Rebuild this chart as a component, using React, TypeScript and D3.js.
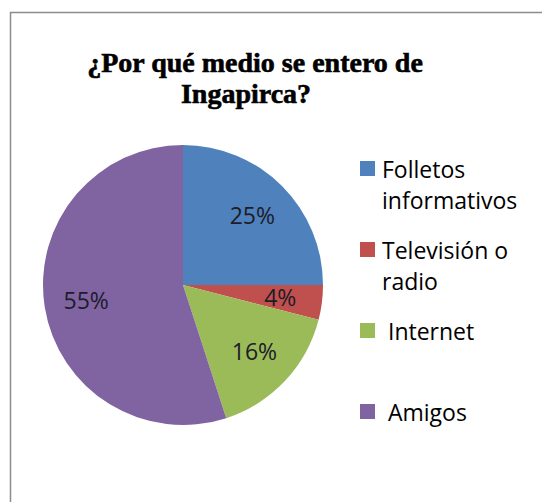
import React from "react";
import * as d3 from "d3";

const categories = ["Folletos informativos", "Televisión o radio", "Internet", "Amigos"];
const legendLines = [["Folletos", "informativos"], ["Televisión o", "radio"], [" Internet"], [" Amigos"]];
const values = [25, 4, 16, 55];
const colors = ["#4F81BD", "#C0504D", "#9BBB59", "#8064A2"];
const titleLines = ["¿Por qué medio se entero de", "Ingapirca?"];

export default function App() {
  const W = 542, H = 502;
  const cx = 183, cy = 285, R = 140;
  const pie = d3.pie<number>().sort(null).value((d) => d);
  const arcs = pie(values);
  const arc = d3.arc<d3.PieArcDatum<number>>().innerRadius(0).outerRadius(R);
  const labelArc = d3.arc<d3.PieArcDatum<number>>().innerRadius(98).outerRadius(98);
  return (
    <svg width={W} height={H} style={{ position: "absolute", left: 0, top: 0, background: "#fff" }}>
      <rect x={10.5} y={12.5} width={560} height={500} fill="#fff" stroke="#8c8c8c" strokeWidth={1.5} />
      {titleLines.map((t, i) => (
        <text key={i} x={i === 0 ? 255 : 246} y={72 + i * 31} textAnchor="middle"
          fontFamily="'Liberation Serif', serif" fontWeight="bold" fontSize={28} fill="#000"
          stroke="#000" strokeWidth={0.6}>{t}</text>
      ))}
      <g transform={`translate(${cx},${cy})`}>
        {arcs.map((a, i) => (
          <path key={i} d={arc(a) || ""} fill={colors[i]} />
        ))}
        {arcs.map((a, i) => {
          const [x, y] = labelArc.centroid(a);
          return (
            <text key={"l" + i} x={x} y={y} dy="0.36em" textAnchor="middle"
              fontFamily="'Open Sans', sans-serif" fontSize={23} fill="#1c1c2a">{values[i]}%</text>
          );
        })}
      </g>
      {categories.map((c, i) => {
        const y0 = 161 + i * 81;
        return (
          <g key={c}>
            <rect x={360} y={y0} width={15} height={15} fill={colors[i]} />
            {legendLines[i].map((ln, j) => (
              <text key={j} x={382} y={y0 + 17 + j * 31} fontFamily="'Open Sans', sans-serif"
                fontSize={23} fill="#000" style={{ whiteSpace: "pre" }}>{ln}</text>
            ))}
          </g>
        );
      })}
    </svg>
  );
}
